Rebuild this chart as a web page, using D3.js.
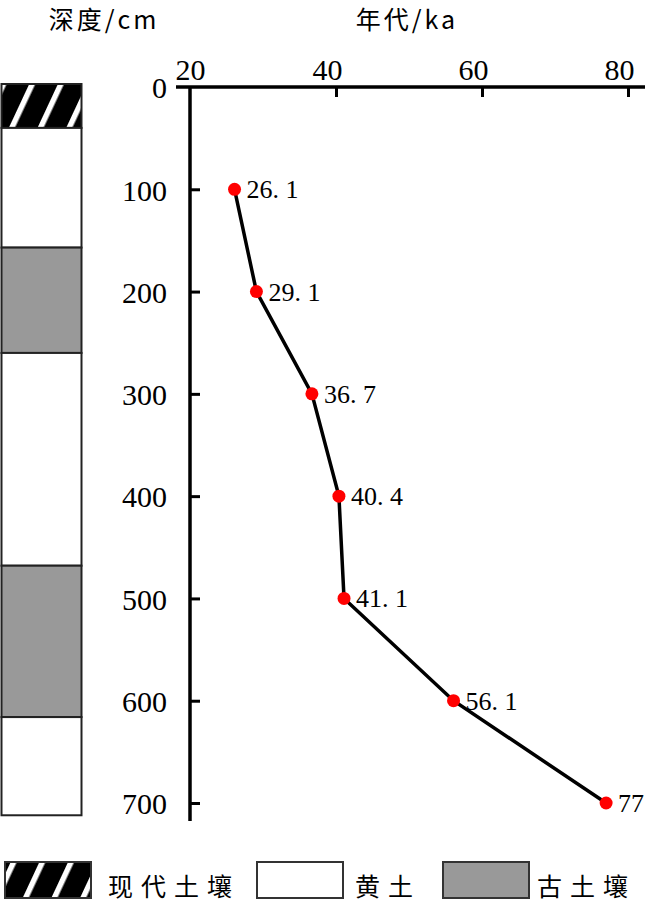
<!DOCTYPE html>
<html><head><meta charset="utf-8">
<script src="https://cdn.jsdelivr.net/npm/d3@7"></script>
<style>body{margin:0;background:#fff}svg{display:block}</style>
</head><body>
<script>
// Data
const depths = [100, 200, 300, 400, 500, 600, 700];
const ages = [26.1, 29.1, 36.7, 40.4, 41.1, 56.1, 77];
const ageLabels = ["26. 1", "29. 1", "36. 7", "40. 4", "41. 1", "56. 1", "77"];
const xTicks = [20, 40, 60, 80];
const yTicks = [0, 100, 200, 300, 400, 500, 600, 700];
const layerTops = [0, 40, 157, 260, 468, 616];
const layerBottoms = [40, 157, 260, 468, 616, 712];
const layerTypes = ["modern", "loess", "paleo", "loess", "paleo", "loess"];
const legendNames = ["现代土壤", "黄土", "古土壤"];
const legendTypes = ["modern", "loess", "paleo"];

const W = 647, H = 903;
const svg = d3.select("body").append("svg").attr("width", W).attr("height", H);
const defs = svg.append("defs");
const pat = defs.append("pattern").attr("id", "hatch").attr("patternUnits", "userSpaceOnUse")
  .attr("width", 26).attr("height", 26).attr("patternTransform", "rotate(25)");
pat.append("rect").attr("width", 26).attr("height", 26).attr("fill", "#000");
pat.append("rect").attr("x", 10).attr("width", 5.5).attr("height", 26).attr("fill", "#fff");

const fillOf = t => t === "modern" ? "url(#hatch)" : t === "paleo" ? "#999999" : "#ffffff";

const x = d3.scaleLinear().domain([20, 80]).range([190, 628]);
const y = d3.scaleLinear().domain([0, 700]).range([87, 803]);

const serif = "'Liberation Serif','Times New Roman',serif";
const cjk = "'Noto Sans CJK SC','Noto Sans CJK JP',sans-serif";

// titles
svg.append("text").attr("x", 104).attr("y", 29).attr("text-anchor", "middle")
  .style("font-family", cjk).style("font-size", "25px").style("letter-spacing", "3px").text("深度/cm");
svg.append("text").attr("x", 407).attr("y", 29).attr("text-anchor", "middle")
  .style("font-family", cjk).style("font-size", "25px").style("letter-spacing", "3px").text("年代/ka");

// stratigraphic column
const col = svg.append("g");
col.selectAll("rect").data(layerTypes).join("rect")
  .attr("x", 1.5).attr("width", 80)
  .attr("y", (d, i) => y(layerTops[i]) - (i === 0 ? 3 : 0))
  .attr("height", (d, i) => y(layerBottoms[i]) - y(layerTops[i]) + (i === 0 ? 3 : 0))
  .attr("fill", d => fillOf(d))
  .attr("stroke", "#222").attr("stroke-width", 2);

// axes
const gy = svg.append("g").attr("transform", "translate(190,0)")
  .call(d3.axisLeft(y).tickValues(yTicks).tickSize(-10).tickPadding(23));
gy.select(".domain").remove();
gy.selectAll(".tick line").attr("stroke", "#000").attr("stroke-width", 3);
gy.selectAll(".tick text").style("font-family", serif).style("font-size", "30px").attr("dy", "0.36em");
gy.selectAll(".tick").filter(d => d === 0).select("line").remove();

const gx = svg.append("g").attr("transform", "translate(0,87)")
  .call(d3.axisTop(x).tickValues(xTicks).tickSize(-10).tickPadding(7));
gx.select(".domain").remove();
gx.selectAll(".tick line").attr("stroke", "#000").attr("stroke-width", 3);
gx.selectAll(".tick").filter(d => d === 20).select("line").remove();
gx.selectAll(".tick text").style("font-family", serif).style("font-size", "30px")
  .attr("dx", d => d === 20 ? 0 : -9);

svg.append("line").attr("x1", 176).attr("x2", 645).attr("y1", 87).attr("y2", 87)
  .attr("stroke", "#000").attr("stroke-width", 3.5);
svg.append("line").attr("x1", 190).attr("x2", 190).attr("y1", 87).attr("y2", 821)
  .attr("stroke", "#000").attr("stroke-width", 3.5);

// data line
const pts = depths.map((d, i) => [x(ages[i]), y(d)]);
svg.append("path").attr("d", d3.line()(pts)).attr("fill", "none")
  .attr("stroke", "#000").attr("stroke-width", 3.5);
svg.selectAll("circle.pt").data(depths).join("circle").attr("class", "pt")
  .attr("cx", (d, i) => x(ages[i])).attr("cy", d => y(d)).attr("r", 6.5).attr("fill", "#ff0000");
svg.selectAll("text.lab").data(depths).join("text").attr("class", "lab")
  .attr("x", (d, i) => x(ages[i]) + 12).attr("y", d => y(d) + 9)
  .style("font-family", serif).style("font-size", "26px")
  .text((d, i) => ageLabels[i]);

// legend
const lx = [5, 257, 443];
const tx = [108, 355, 537];
const lg = svg.append("g");
legendTypes.forEach((t, i) => {
  lg.append("rect").attr("x", lx[i]).attr("y", 862).attr("width", 86).attr("height", 36)
    .attr("fill", fillOf(t)).attr("stroke", "#333").attr("stroke-width", 2);
  lg.append("text").attr("x", tx[i]).attr("y", 896)
    .style("font-family", cjk).style("font-size", "25px").style("letter-spacing", "8px")
    .text(legendNames[i]);
});
</script>
</body></html>
